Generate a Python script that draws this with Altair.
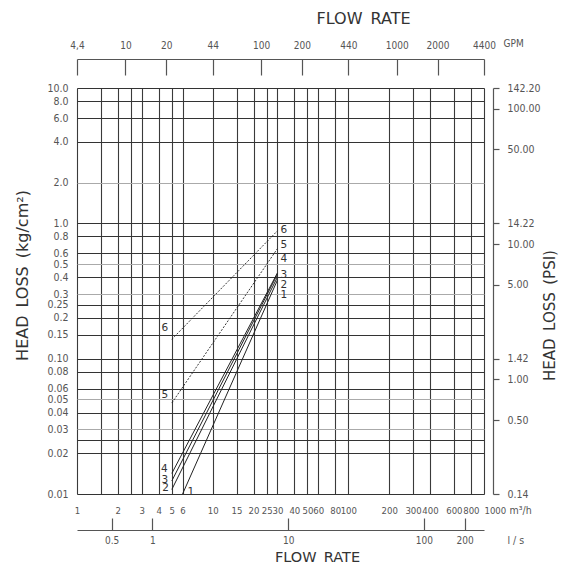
import json
import altair as alt
import pandas as pd

# ---------------- tick / grid values ----------------
x_grid = [1, 1.5, 2, 2.5, 3, 4, 5, 6, 10, 15, 20, 25, 30, 40, 50, 60, 80, 100,
          200, 300, 400, 600, 800, 1000]
x_labels = ["1", "", "2", "", "3", "4", "5", "6", "10", "15", "20", "25", "30",
            "40", "50", "60", "80", "100", "200", "300", "400", "600", "800", "1000"]
y_grid = [0.01, 0.02, 0.025, 0.03, 0.04, 0.05, 0.06, 0.08, 0.1, 0.15, 0.2, 0.25,
          0.3, 0.4, 0.5, 0.6, 0.8, 1, 2, 4, 6, 8, 10]
y_labels = ["0.01", "0.02", "", "0.03", "0.04", "0.05", "0.06", "0.08", "0.10",
            "0.15", "0.2", "0.25", "0.3", "0.4", "0.5", "0.6", "0.8", "1.0", "2.0",
            "4.0", "6.0", "8.0", "10.0"]
y_light = [0.03, 0.05, 0.3, 0.5, 2]

gpm_ticks = [4.4, 10, 20, 44, 100, 200, 440, 1000, 2000, 4400]
gpm_labels = ["4,4", "10", "20", "44", "100", "200", "440", "1000", "2000", "4400"]
ls_ticks = [0.5, 1, 10, 100, 200]
ls_labels = ["0.5", "1", "10", "100", "200"]
psi_ticks = [142.2, 100, 50, 14.22, 10, 5, 1.422, 1, 0.5, 0.1422]
psi_labels = ["142.20", "100.00", "50.00", "14.22", "10.00", "5.00", "1.42",
              "1.00", "0.50", "0.14"]

# ---------------- curves ----------------
series = ["1", "2", "3", "4", "5", "6"]
flow_start = [6.0, 5, 5, 5, 5, 5]
loss_start = [0.01, 0.0108, 0.0125, 0.0142, 0.047, 0.139]
flow_end = [30, 30, 30, 30, 30, 30]
loss_end = [0.38, 0.40, 0.42, 0.43, 0.65, 0.88]
dashed = [False, False, False, False, True, True]

# curve number annotations (data coordinates)
start_lab_flow = [6.9, 4.5, 4.45, 4.4, 4.45, 4.45]
start_lab_loss = [0.0103, 0.0111, 0.0127, 0.0153, 0.054, 0.169]
end_lab_flow = [33.5, 33.5, 33.5, 33.5, 33.5, 33.5]
end_lab_loss = [0.296, 0.352, 0.417, 0.547, 0.695, 0.897]

LABEL_FONT = "DejaVu Sans Condensed, Liberation Sans Narrow, DejaVu Sans"
TITLE_FONT = "DejaVu Sans"
LAB_COL = "#555"
TIT_COL = "#333"


def lbl_expr(vals, labs):
    return f"{json.dumps(labs)}[indexof({json.dumps(vals)}, datum.value)]"


rows = []
for s, x0, y0, x1, y1, d in zip(series, flow_start, loss_start, flow_end, loss_end, dashed):
    rows.append({"series": s, "flow": x0, "loss": y0, "dashed": d})
    rows.append({"series": s, "flow": x1, "loss": y1, "dashed": d})
lines_df = pd.DataFrame(rows)

lab_rows = []
for s, fx, fy in zip(series, start_lab_flow, start_lab_loss):
    lab_rows.append({"txt": s, "flow": fx, "loss": fy})
for s, fx, fy in zip(series, end_lab_flow, end_lab_loss):
    lab_rows.append({"txt": s, "flow": fx, "loss": fy})
labs_df = pd.DataFrame(lab_rows)

xs = alt.Scale(type="log", domain=[1, 1000], nice=False)
ys = alt.Scale(type="log", domain=[0.01, 10], nice=False)

x_axis = alt.Axis(
    orient="bottom", values=x_grid, labelExpr=lbl_expr(x_grid, x_labels),
    grid=True, gridColor="#3a3a3a", gridWidth=1.1,
    ticks=False, tickSize=0, domain=False, labelPadding=11,
    labelAlign={"condition": {"test": "datum.value >= 1000", "value": "left"},
                "value": "center"},
    labelOverlap=False, labelFlush=False, labelFontSize=9.5, labelFont=LABEL_FONT,
    labelColor=LAB_COL, title="m³/h", titleX=432, titleY=16, titleAlign="left",
    titleBaseline="middle", titleFontWeight="normal", titleFontSize=10.5,
    titleFont=LABEL_FONT, titleColor=LAB_COL,
)
y_axis = alt.Axis(
    orient="left", values=y_grid, labelExpr=lbl_expr(y_grid, y_labels),
    grid=True,
    gridColor={"condition": {"test": f"indexof({json.dumps(y_light)}, datum.value) >= 0",
                             "value": "#aaaaaa"}, "value": "#333333"},
    gridWidth=1.1, ticks=False, tickSize=0, domain=False, labelPadding=9,
    labelOverlap=False, labelFontSize=10.5, labelFont=LABEL_FONT, labelColor=LAB_COL,
    title="HEAD\u2002LOSS\u2002(kg/cm²)", titleX=-55, titleY=187, titleAngle=270,
    titleAlign="center", titleBaseline="middle", titleFontWeight="normal",
    titleFontSize=16, titleFont=TITLE_FONT, titleColor=TIT_COL,
)

base_lines = alt.Chart(lines_df)
solid = base_lines.transform_filter("!datum.dashed").mark_line(
    color="#222", strokeWidth=1.0
).encode(
    x=alt.X("flow:Q", scale=xs, axis=x_axis),
    y=alt.Y("loss:Q", scale=ys, axis=y_axis),
    detail="series:N",
)
dash = base_lines.transform_filter("datum.dashed").mark_line(
    color="#222", strokeWidth=0.9, strokeDash=[2, 1.5]
).encode(
    x=alt.X("flow:Q", scale=xs),
    y=alt.Y("loss:Q", scale=ys),
    detail="series:N",
)
nums = alt.Chart(labs_df).mark_text(
    fontSize=10.5, color="#333", font=TITLE_FONT
).encode(
    x=alt.X("flow:Q", scale=xs),
    y=alt.Y("loss:Q", scale=ys),
    text="txt:N",
)
main = alt.layer(solid, dash, nums)

# ---- GPM (top) ----
gpm_df = pd.DataFrame({"gpm": gpm_ticks})
gpm_scale = alt.Scale(type="log", domain=[4.4, 4400], nice=False)
gpm_a = alt.Chart(gpm_df).mark_point(opacity=0).encode(
    x=alt.X("gpm:Q", scale=gpm_scale, axis=alt.Axis(
        orient="top", offset=13, values=gpm_ticks,
        labelExpr=lbl_expr(gpm_ticks, gpm_labels), grid=False, domain=False,
        ticks=True, tickSize=16, tickColor="#555", tickWidth=1.2,
        labelPadding=9, labelOverlap=False, labelFlush=False, labelFontSize=10,
        labelFont=LABEL_FONT, labelColor=LAB_COL,
        title="GPM", titleX=426, titleY=-32, titleAlign="left",
        titleBaseline="middle", titleFontWeight="normal", titleFontSize=10,
        titleFont=LABEL_FONT, titleColor=LAB_COL,
    ))
)
gpm_b = alt.Chart(gpm_df).mark_point(opacity=0).encode(
    x=alt.X("gpm:Q", scale=gpm_scale, axis=alt.Axis(
        orient="top", offset=29, grid=False, domain=True, domainColor="#555",
        domainWidth=1.2, ticks=False, labels=False,
        title="FLOW\u2002RATE", titleX=286, titleY=-41, titleAlign="center",
        titleBaseline="middle", titleFontWeight="normal", titleFontSize=16,
        titleFont=TITLE_FONT, titleColor=TIT_COL,
    ))
)

# ---- l/s (bottom, second row) ----
ls_df = pd.DataFrame({"ls": ls_ticks})
ls_scale = alt.Scale(type="log", domain=[1 / 3.6, 1000 / 3.6], nice=False)
ls_a = alt.Chart(ls_df).mark_point(opacity=0).encode(
    x=alt.X("ls:Q", scale=ls_scale, axis=alt.Axis(
        orient="bottom", offset=24, values=ls_ticks,
        labelExpr=lbl_expr(ls_ticks, ls_labels), grid=False, domain=False,
        ticks=True, tickSize=12, tickColor="#555", tickWidth=1.2,
        labelPadding=5, labelOverlap=False, labelFlush=False, labelFontSize=10,
        labelFont=LABEL_FONT, labelColor=LAB_COL,
        title="l / s", titleX=430, titleY=22, titleAlign="left",
        titleBaseline="middle", titleFontWeight="normal", titleFontSize=10.5,
        titleFont=LABEL_FONT, titleColor=LAB_COL,
    ))
)
ls_b = alt.Chart(ls_df).mark_point(opacity=0).encode(
    x=alt.X("ls:Q", scale=ls_scale, axis=alt.Axis(
        orient="bottom", offset=36, grid=False, domain=True, domainColor="#555",
        domainWidth=1.2, ticks=False, labels=False,
        title="FLOW\u2002RATE", titleX=240, titleY=27, titleAlign="center",
        titleBaseline="middle", titleFontWeight="normal", titleFontSize=14.5,
        titleFont=TITLE_FONT, titleColor=TIT_COL,
    ))
)

# ---- PSI (right) ----
psi_df = pd.DataFrame({"psi": psi_ticks})
psi_scale = alt.Scale(type="log", domain=[0.1422, 142.2], nice=False)
psi = alt.Chart(psi_df).mark_point(opacity=0).encode(
    y=alt.Y("psi:Q", scale=psi_scale, axis=alt.Axis(
        orient="right", offset=9, values=psi_ticks,
        labelExpr=lbl_expr(psi_ticks, psi_labels), grid=False, domain=True,
        domainColor="#555", domainWidth=1.2, ticks=True, tickSize=6,
        tickColor="#555", tickWidth=1.2, labelPadding=8, labelOverlap=False,
        labelFontSize=10.5, labelFont=LABEL_FONT, labelColor=LAB_COL,
        title="HEAD\u2002LOSS\u2002(PSI)", titleX=56, titleY=227, titleAngle=270,
        titleAlign="center", titleBaseline="middle", titleFontWeight="normal",
        titleFontSize=15, titleFont=TITLE_FONT, titleColor=TIT_COL,
    ))
)

chart = alt.layer(main, gpm_a, gpm_b, ls_a, ls_b, psi).resolve_scale(
    x="independent", y="independent"
).properties(
    width=407, height=406,
    autosize=alt.AutoSizeParams(type="none"),
    padding={"left": 69, "top": 80, "right": 75, "bottom": 71},
).configure_view(stroke=None).configure(background="white")

chart.save("out.html", embed_options={"renderer": "svg", "actions": False})
